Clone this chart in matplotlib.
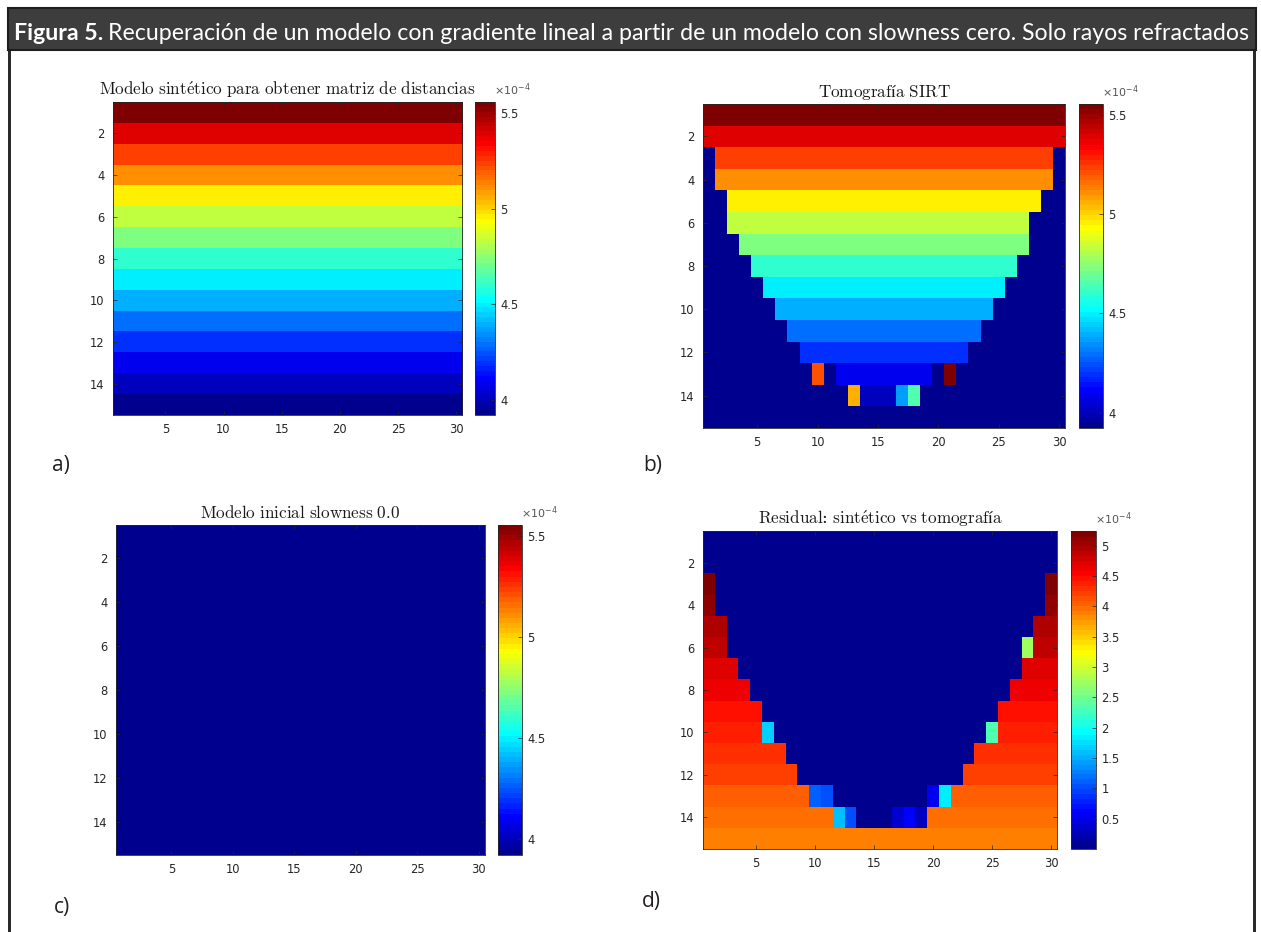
import numpy as np
import matplotlib
matplotlib.use('Agg')
import matplotlib.pyplot as plt
from matplotlib.patches import Rectangle
from matplotlib.colors import ListedColormap
from matplotlib.ticker import FuncFormatter

# slowness of the synthetic model, one value per layer (x 1e-4 s/m)
synthetic_slowness = [5.556, 5.395, 5.243, 5.100, 4.965, 4.836, 4.714, 4.598,
                      4.487, 4.382, 4.281, 4.185, 4.094, 4.006, 3.922]

# SIRT tomography: columns covered by rays in each layer (first, last)
tomo_first_col = [1, 1, 2, 2, 3, 3, 4, 5, 6, 7, 8, 9, 12, 14, 31]
tomo_last_col = [30, 30, 29, 29, 28, 27, 27, 26, 25, 24, 23, 22, 19, 16, 30]

# isolated cells of the tomography that differ from the layer value
odd_rows = [6, 10, 10, 13, 13, 13, 13, 14, 14, 14, 14, 14]
odd_cols = [28, 6, 25, 10, 11, 20, 21, 12, 13, 17, 18, 19]
odd_vals = [2.09, 2.74, 2.02, 5.20, 3.04, 3.59, 5.95, 2.39, 5.07, 4.38, 4.66, 3.75]

n_rows, n_cols = 15, 30
x_ticks = [5, 10, 15, 20, 25, 30]
y_ticks = [2, 4, 6, 8, 10, 12, 14]
ticks_model = [4.0, 4.5, 5.0, 5.5]
ticks_resid = [0.5, 1, 1.5, 2, 2.5, 3, 3.5, 4, 4.5, 5]

titles = ['Modelo sintético para obtener matriz de distancias',
          'Tomografía SIRT',
          'Modelo inicial slowness 0.0',
          'Residual: sintético vs tomografía']

# build grids
synthetic = np.repeat(np.array(synthetic_slowness)[:, None], n_cols, axis=1) * 1e-4
tomo = np.zeros((n_rows, n_cols))
for i in range(n_rows):
    for j in range(tomo_first_col[i], tomo_last_col[i] + 1):
        tomo[i, j - 1] = synthetic_slowness[i] * 1e-4
for r, c, v in zip(odd_rows, odd_cols, odd_vals):
    tomo[r - 1, c - 1] = v * 1e-4
initial = np.zeros((n_rows, n_cols))
residual = np.abs(synthetic - tomo)

# MATLAB style jet(64)
x = np.arange(1, 65) / 64
jet_r = np.clip(np.minimum(4 * x - 1.5, -4 * x + 4.5), 0, 1)
jet_g = np.clip(np.minimum(4 * x - 0.5, -4 * x + 3.5), 0, 1)
jet_b = np.clip(np.minimum(4 * x + 0.5, -4 * x + 2.5), 0, 1)
cmap = ListedColormap(np.c_[jet_r, jet_g, jet_b])

plt.rcParams['font.family'] = 'DejaVu Sans'


def cm_title(s):
    # computer modern look through mathtext, colon kept outside math
    parts = []
    for chunk in s.split(':'):
        chunk = chunk.replace(' ', r'\ ').replace('é', r'\acute{e}')
        parts.append(r'$\mathrm{' + chunk + '}$')
    return ':'.join(parts)


W, H = 1261, 932
fig = plt.figure(figsize=(W / 100, H / 100), dpi=100)


def box(l, t, r, b):
    return [l / W, 1 - b / H, (r - l) / W, (b - t) / H]


tick_col = '#262626'
vmin_m, vmax_m = synthetic.min(), synthetic.max()

panels = [
    (synthetic, vmin_m, vmax_m, ticks_model, (113, 102, 462, 415), (475, 102, 495, 415)),
    (tomo, vmin_m, vmax_m, ticks_model, (703, 104, 1065, 428), (1079, 104, 1103, 428)),
    (initial, vmin_m, vmax_m, ticks_model, (116, 525, 485, 855), (498, 525, 522, 855)),
    (residual, 0, residual.max(), ticks_resid, (703, 531, 1057, 849), (1071, 531, 1096, 849)),
]

fmt = FuncFormatter(lambda v, p: f'{v * 1e4:g}')

for (data, lo, hi, cticks, apos, cpos), title in zip(panels, titles):
    ax = fig.add_axes(box(*apos))
    im = ax.imshow(data, cmap=cmap, vmin=lo, vmax=hi, aspect='auto',
                   interpolation='nearest', extent=(0.5, n_cols + 0.5, n_rows + 0.5, 0.5))
    ax.set_xticks(x_ticks)
    ax.set_yticks(y_ticks)
    ax.tick_params(direction='in', length=3, width=0.5, top=True, right=True,
                   labelsize=8.3, colors=tick_col, pad=6)
    for s in ax.spines.values():
        s.set_linewidth(0.6)
        s.set_color(tick_col)
    ax.set_title(cm_title(title), fontsize=12.3, pad=5, color='#1a1a1a',
                 family='DejaVu Serif', math_fontfamily='cm')

    cax = fig.add_axes(box(*cpos))
    cb = fig.colorbar(im, cax=cax, ticks=[t * 1e-4 for t in cticks])
    cb.ax.yaxis.set_major_formatter(fmt)
    cb.ax.tick_params(direction='in', length=3, width=0.5, labelsize=8.3,
                      colors=tick_col, pad=4)
    cb.outline.set_linewidth(0.6)
    cb.outline.set_edgecolor(tick_col)
    cax.text(0.97, 1.012, r'$\times10^{-4}$', transform=cax.transAxes,
             fontsize=8, color='#555555', ha='left', va='bottom',
             math_fontfamily='dejavusans')

# panel letters
for lab, (x, y) in zip(['a)', 'b)', 'c)', 'd)'],
                       [(52, 466), (643, 466), (54, 908), (642, 902)]):
    fig.text(x / W, 1 - y / H, lab, fontsize=15, family='Open Sans',
             color='#231f20', va='center', ha='left')

# frame and header bar
line_col = '#2a2a2a'
fig.add_artist(Rectangle((8 / W, 0), 3 / W, 1 - 8 / H, transform=fig.transFigure,
                         facecolor=line_col, edgecolor='none'))
fig.add_artist(Rectangle((1253 / W, 0), 3 / W, 1 - 8 / H, transform=fig.transFigure,
                         facecolor=line_col, edgecolor='none'))
fig.add_artist(Rectangle((8 / W, 1 - 50 / H), 1248 / W, 42 / H, transform=fig.transFigure,
                         facecolor='#3d3d3d', edgecolor='#1e1e1e', linewidth=1.5))

head_bold = 'Figura 5.'
head_rest = ('Recuperación de un modelo con gradiente lineal a partir de un modelo '
             'con slowness cero. Solo rayos refractados')
fam = ['Lato', 'DejaVu Sans']
x0, x1, ybase = 14, 1250, 40
fs = 15
t1 = fig.text(x0 / W, 1 - ybase / H, head_bold, fontsize=fs, weight='bold', family=fam,
              color='white', va='baseline')
t2 = fig.text(0, 1 - ybase / H, head_rest, fontsize=fs, family=fam,
              color='white', va='baseline')
r = fig.canvas.get_renderer()
w1 = t1.get_window_extent(r).width
w2 = t2.get_window_extent(r).width
gap = 5
scale = (x1 - x0 - gap) / (w1 + w2)
fs *= scale
t1.set_fontsize(fs)
t2.set_fontsize(fs)
w1 = t1.get_window_extent(r).width
t2.set_x((x0 + w1 + gap) / W)

fig.savefig('out.png', dpi=100)
